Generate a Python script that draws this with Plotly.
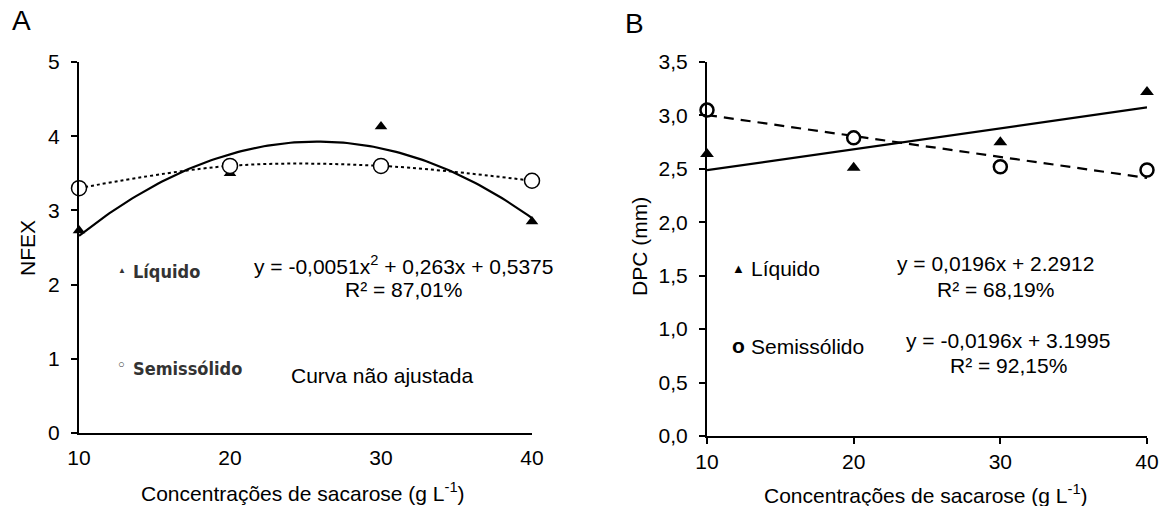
import plotly.graph_objects as go

W, H = 1169, 506

# ---------------- data ----------------
conc = [10, 20, 30, 40]

# Panel A (NFEX)
nfex_liquido = [2.73, 3.50, 4.13, 2.85]
nfex_semi = [3.30, 3.60, 3.60, 3.40]
nfex_fit = [-0.0051, 0.263, 0.5375]          # quadratic trend for Líquido

# Panel B (DPC)
dpc_liquido = [2.64, 2.51, 2.75, 3.22]
dpc_semi = [3.05, 2.79, 2.52, 2.49]
dpc_fit_liq = [0.0196, 2.2912]
dpc_fit_semi = [-0.0196, 3.1995]

nfex_ticks = [0, 1, 2, 3, 4, 5]
dpc_ticks = [0, 0.5, 1, 1.5, 2, 2.5, 3, 3.5]

FONT = "Liberation Sans, Arial, sans-serif"
NARROW = "Liberation Sans Narrow, DejaVu Sans Condensed, Arial Narrow, sans-serif"
FS = 21

def px(x):
    return x / W

def py(y):
    return 1 - y / H

fig = go.Figure()

# ---- Panel A ----
xf = [10 + i * 0.25 for i in range(121)]
yf = [nfex_fit[0] * x * x + nfex_fit[1] * x + nfex_fit[2] for x in xf]
fig.add_trace(go.Scatter(x=xf, y=yf, mode="lines", line=dict(color="black", width=2.2),
                         xaxis="x", yaxis="y", showlegend=False, cliponaxis=False, hoverinfo="skip"))
fig.add_trace(go.Scatter(x=conc, y=nfex_semi, mode="lines",
                         line=dict(color="black", width=2, dash="dot", shape="spline"),
                         xaxis="x", yaxis="y", showlegend=False, cliponaxis=False))
fig.add_trace(go.Scatter(x=conc, y=nfex_liquido, mode="markers", name="Líquido",
                         marker=dict(symbol="triangle-up", size=11, color="black"),
                         xaxis="x", yaxis="y", showlegend=False, cliponaxis=False))
fig.add_trace(go.Scatter(x=conc, y=nfex_semi, mode="markers", name="Semissólido",
                         marker=dict(symbol="circle", size=15, color="white", line=dict(color="black", width=1.5)),
                         xaxis="x", yaxis="y", showlegend=False, cliponaxis=False))

# ---- Panel B ----
xl = [10, 40]
fig.add_trace(go.Scatter(x=xl, y=[dpc_fit_liq[0] * x + dpc_fit_liq[1] for x in xl], mode="lines",
                         line=dict(color="black", width=2.2), xaxis="x2", yaxis="y2", showlegend=False,
                         cliponaxis=False, hoverinfo="skip"))
fig.add_trace(go.Scatter(x=xl, y=[dpc_fit_semi[0] * x + dpc_fit_semi[1] for x in xl], mode="lines",
                         line=dict(color="black", width=2.2, dash="10px,7px"), xaxis="x2", yaxis="y2",
                         showlegend=False, cliponaxis=False, hoverinfo="skip"))
fig.add_trace(go.Scatter(x=conc, y=dpc_liquido, mode="markers", name="Líquido",
                         marker=dict(symbol="triangle-up", size=12, color="black"),
                         xaxis="x2", yaxis="y2", showlegend=False, cliponaxis=False))
fig.add_trace(go.Scatter(x=conc, y=dpc_semi, mode="markers", name="Semissólido",
                         marker=dict(symbol="circle", size=13, color="white", line=dict(color="black", width=2.5)),
                         xaxis="x2", yaxis="y2", showlegend=False, cliponaxis=False))

axis_common = dict(showgrid=False, zeroline=False, showline=True, linecolor="black", linewidth=2,
                   tickfont=dict(family=FONT, size=FS, color="black"), mirror=False, automargin=False)

fig.update_layout(
    template="none",
    width=W, height=H, margin=dict(l=0, r=0, t=0, b=0, pad=0, autoexpand=False),
    paper_bgcolor="white", plot_bgcolor="white",
    separators=",.",
    showlegend=False,
    xaxis=dict(domain=[px(79), px(532)], range=[10, 40], tickvals=conc, ticks="",
               ticklabelstandoff=5, anchor="y", **axis_common),
    yaxis=dict(domain=[py(433), py(62)], range=[0, 5], tickvals=nfex_ticks, ticks="outside",
               ticklen=6, tickwidth=1.5, tickcolor="black", ticklabelstandoff=7, anchor="x", **axis_common),
    xaxis2=dict(domain=[px(707), px(1147)], range=[10, 40], tickvals=conc, ticks="outside",
                ticklen=6, tickwidth=1.5, tickcolor="black", anchor="y2", **axis_common),
    yaxis2=dict(domain=[py(436), py(62)], range=[0, 3.5], tickvals=dpc_ticks,
                tickformat=".1f", ticks="outside", ticklen=6, tickwidth=1.5, tickcolor="black",
                ticklabelstandoff=7, anchor="x2", **axis_common),
)

def ann(text, x, y, size=FS, family=FONT, xanchor="center", angle=0, color="black"):
    fig.add_annotation(text=text, x=px(x), y=py(y), xref="paper", yref="paper", showarrow=False,
                       xanchor=xanchor, yanchor="middle", textangle=angle,
                       font=dict(family=family, size=size, color=color))

# panel letters
ann("A", 21, 21, size=28)
ann("B", 634, 24, size=28)

# axis titles
xtitle = "Concentrações de sacarose (g L<sup>-1</sup>)"
ann(xtitle, 303, 492)
ann(xtitle, 926, 494)
ann("NFEX", 27, 248, angle=-90)
ann("DPC (mm)", 639, 247, angle=-90)

# Panel A legend (condensed, blurry style)
ann("▲", 122, 270, size=8, color="#333")
ann("<b>Líquido</b>", 131, 271, size=18, family=NARROW, xanchor="left", color="#333")
ann("○", 121, 364, size=11, color="#333")
ann("<b>Semissólido</b>", 131, 368, size=18, family=NARROW, xanchor="left", color="#333")

# Panel A equation
ann("y = -0,0051x<sup>2</sup> + 0,263x + 0,5375", 403, 265)
ann("R² = 87,01%", 403, 289)
ann("Curva não ajustada", 382, 375)

# Panel B legend
ann("▲", 738, 268, size=13)
ann("Líquido", 749, 268, xanchor="left")
ann("<b>o</b>", 738, 345, size=21)
ann("Semissólido", 749, 346, xanchor="left")

# Panel B equations
ann("y = 0,0196x + 2.2912", 995, 263)
ann("R² = 68,19%", 995, 289)
ann("y = -0,0196x + 3.1995", 1008, 340)
ann("R² = 92,15%", 1008, 365)

fig.write_html("out.html", config={"displayModeBar": False},
               post_script="document.body.style.margin='0';document.body.style.overflow='hidden';")
